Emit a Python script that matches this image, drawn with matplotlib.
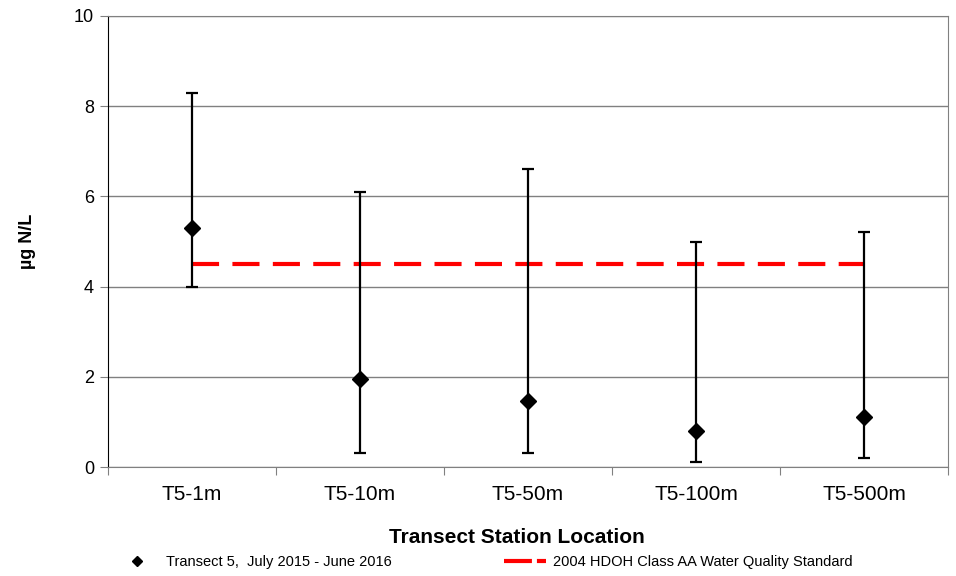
import matplotlib.pyplot as plt
from matplotlib.lines import Line2D
import numpy as np

plt.rcParams['font.family'] = ['Liberation Sans', 'DejaVu Sans']

# data
stations = ['T5-1m', 'T5-10m', 'T5-50m', 'T5-100m', 'T5-500m']
means = [5.3, 1.95, 1.47, 0.8, 1.1]
mins = [4.0, 0.3, 0.3, 0.1, 0.2]
maxs = [8.3, 6.1, 6.6, 5.0, 5.2]
standard = [4.5, 4.5, 4.5, 4.5, 4.5]

series_label = 'Transect 5,  July 2015 - June 2016'
standard_label = '2004 HDOH Class AA Water Quality Standard'

x = np.arange(len(stations))
lower = np.array(means) - np.array(mins)
upper = np.array(maxs) - np.array(means)

fig = plt.figure(figsize=(9.56, 5.76), dpi=100)
ax = fig.add_axes([108/956, 1-467/576, 840/956, 451/576])

ax.set_ylim(0, 10)
ax.set_xlim(-0.5, len(stations) - 0.5)
ax.set_yticks([0, 2, 4, 6, 8, 10])
ax.yaxis.grid(True, color='#808080', linewidth=1)
ax.set_axisbelow(True)

ax.errorbar(x, means, yerr=[lower, upper], fmt='D', color='black',
            ecolor='black', elinewidth=1.6, capsize=4.5, capthick=1.6,
            markersize=8, zorder=3)
ax.plot(x, standard, color='#ff0000', linewidth=3, dashes=(6.5, 3.2), zorder=2)

# category ticks sit between stations
ax.set_xticks(np.arange(len(stations) + 1) - 0.5)
ax.set_xticklabels([])
ax.set_xticks(x, minor=True)
ax.set_xticklabels(stations, minor=True, fontsize=15)
ax.tick_params(axis='x', which='minor', length=0, pad=13)
ax.tick_params(axis='x', which='major', length=6, color='#808080')
ax.tick_params(axis='y', length=6, color='#808080', labelsize=13, pad=4)

for side in ['top', 'right', 'bottom']:
    ax.spines[side].set_color('#808080')
ax.spines['left'].set_color('black')

ax.set_xlabel('Transect Station Location', fontsize=15, fontweight='bold')
ax.xaxis.set_label_coords(0.487, -0.135)
ax.set_ylabel('µg N/L', fontsize=13, fontweight='bold', labelpad=27)

handles = [
    Line2D([], [], marker='D', markersize=5.5, linestyle='none', color='black'),
    Line2D([], [], color='#ff0000', linewidth=3, dashes=(6.7, 1.2)),
]
fig.legend(handles, [series_label, standard_label], loc='center',
           bbox_to_anchor=(0.507, 0.024), ncol=2, frameon=False,
           fontsize=10.5, handlelength=2.9, columnspacing=7.7, handletextpad=0.5)

fig.savefig('out.png', dpi=100)
